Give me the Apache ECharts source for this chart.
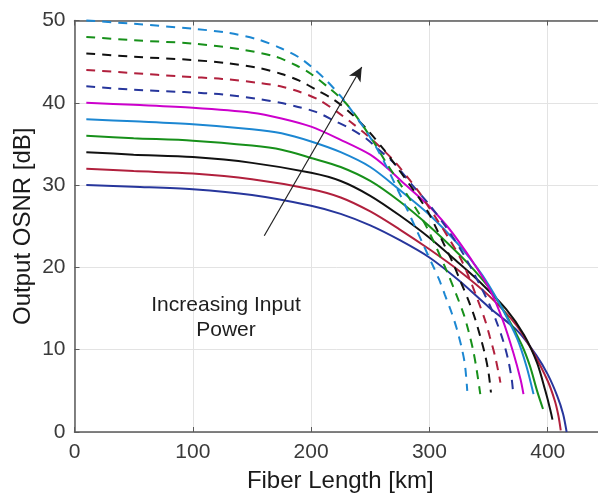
<!DOCTYPE html>
<html><head><meta charset="utf-8">
<script src="https://cdn.jsdelivr.net/npm/echarts@6/dist/echarts.min.js"></script>
<style>html,body{margin:0;padding:0;background:#fff}#c{width:598px;height:498px}</style>
</head><body><div id="c"></div>
<script>
// Tick values
const xTicks = [0, 100, 200, 300, 400];
const yTicks = [0, 10, 20, 30, 40, 50];
// Solid curves: [fiber length km, OSNR dB]
const solid30 = [[10,30],[50,29.8],[100,29.5],[150,28.8],[200,27.5],[225,26.5],[250,25.1],[275,23.3],[300,21.2],[325,18.4],[350,15.2],[375,12.2],[390,9.4],[400,7.0],[408,4.4],[413,2.2],[416,0]];
const solid32 = [[10,32],[50,31.7],[100,31.4],[150,30.7],[200,29.5],[225,28.5],[250,26.8],[275,24.6],[300,22.2],[325,19.6],[350,16.6],[374,12.9],[388,9.6],[400,6.2],[406,3.8],[409,2.0],[411,0.2]];
const solid34 = [[10,34],[50,33.7],[100,33.4],[150,32.7],[200,31.5],[225,30.5],[250,28.7],[275,26.3],[300,23.6],[325,20.5],[345,17.9],[365,14.9],[380,11.8],[391,8.4],[398,5.0],[402,2.8],[404,1.5]];
const solid36 = [[10,36],[50,35.7],[100,35.4],[150,34.8],[175,34.3],[200,33.3],[225,32.2],[250,30.5],[275,28.0],[300,25.0],[325,21.6],[337,19.8],[351,17.4],[365,14.2],[378,10.6],[385,8.0],[391,5.0],[396,2.8]];
const solid38 = [[10,38],[50,37.75],[100,37.4],[150,36.8],[175,36.3],[200,35.3],[225,34.0],[250,32.2],[275,29.4],[300,26.4],[325,22.7],[340,20.0],[350,17.9],[360,15.4],[374,11.4],[382,8.0],[388,4.6]];
const solid40 = [[10,40],[50,39.75],[100,39.4],[150,38.8],[175,38.1],[200,37.1],[225,35.5],[250,33.7],[265,32.0],[280,30.0],[300,27.4],[315,25.0],[325,23.1],[337,20.6],[351,17.3],[362,13.6],[371,9.6],[377,6.4],[379.5,4.6]];
// Dashed curves
const dashed42 = [[10,42],[50,41.6],[93,41.3],[126,41.0],[158,40.4],[174,40.0],[189,39.5],[204,38.9],[220,37.8],[234,36.8],[247,35.6],[258,34.2],[270,32.7],[285,30.1],[300,27.6],[315,24.7],[330,21.3],[344,17.5],[351,15.4],[357,13.3],[362.5,11.0],[366.7,8.7],[369.6,6.4],[370.5,5.2]];
const dashed44 = [[10,44],[50,43.6],[90,43.2],[125,42.9],[157,42.4],[174,42.0],[189,41.4],[206,40.4],[222,38.9],[234,37.6],[247,36.1],[260,34.4],[271,32.8],[284,30.5],[292,29.0],[300,27.2],[306,25.9],[317,23.4],[327,20.9],[334,18.6],[341,16.0],[347,13.6],[351,11.6],[355.5,9.2],[359,6.8],[360,6.0]];
const dashed46 = [[10,46],[50,45.6],[100,45.2],[130,44.8],[157,44.2],[175,43.5],[190,42.7],[204,41.6],[219,40.4],[233,38.8],[247,36.8],[261,34.4],[273,32.1],[283,30.1],[291,28.5],[299,26.7],[306,24.7],[313,22.6],[320,20.5],[326,18.4],[333,16.0],[338.5,13.8],[343,11.6],[347,9.4],[350,7.2],[352,4.8]];
const dashed48 = [[10,48],[50,47.6],[100,47.2],[140,46.5],[170,45.6],[188,44.5],[200,43.5],[216,41.7],[229,40.0],[241,37.8],[253,35.2],[264,32.6],[275,30.2],[283,28.4],[291,26.6],[298,24.8],[305,22.7],[316,19.1],[323,16.6],[329,14.3],[333,12.3],[337,9.9],[340,7.5],[343,4.6]];
const dashed50 = [[10,50],[50,49.6],[100,49.0],[130,48.5],[155,47.7],[175,46.6],[190,45.5],[200,44.4],[213,42.7],[225,40.8],[235,38.9],[245,36.9],[255,34.6],[265,31.9],[273,29.5],[281,27.1],[288,24.9],[295,22.7],[302,20.5],[308,18.6],[313,16.7],[319,14.4],[323,12.6],[327,10.4],[330,8.2],[332,5.0]];
// Arrow (start, end) in data coordinates
const arrowPts = [[160.4,23.85],[242.8,44.35]];
const annotation = 'Increasing Input\nPower';

const C = {blue:'#27369c', red:'#b1203d', black:'#111111', green:'#17901a', lblue:'#1c87d2', mag:'#cc00cc'};
const FONT = 'Liberation Sans, Arial, Helvetica, sans-serif';
const XMAX = 442.5;

function ln(data, color, dashed){
  return {type:'line', data, smooth:0.3, showSymbol:false, symbol:'none', clip:false,
    lineStyle:{color, width:2, type: dashed ? [9,7] : 'solid', cap:'butt'}, z:2, silent:true};
}

const chart = echarts.init(document.getElementById('c'), null, {renderer:'canvas'});
chart.setOption({
  animation:false,
  backgroundColor:'#fff',
  grid:{left:74.5, top:20.5, right:0, bottom:63, containLabel:false},
  xAxis:[{type:'value', min:0, max:XMAX, interval:100,
    name:'Fiber Length [km]', nameLocation:'middle', nameGap:37, nameMoveOverlap:false,
    nameTextStyle:{fontFamily:FONT, fontSize:24, color:'#1a1a1a', padding:[0,0,0,8]},
    axisLine:{show:true, lineStyle:{color:'#5a5a5a', width:1.5}},
    axisTick:{show:true, inside:true, length:5, lineStyle:{color:'#5a5a5a'}},
    axisLabel:{fontFamily:FONT, fontSize:21, color:'#3a3a3a', margin:10, showMaxLabel:false,
      formatter:v=> xTicks.includes(v) ? String(v) : ''},
    splitLine:{show:true, lineStyle:{color:'#e3e3e3', width:1}}},
   {type:'value', min:0, max:XMAX, interval:100, position:'top',
    axisLine:{show:true, onZero:false, lineStyle:{color:'#5a5a5a', width:1.5}},
    axisTick:{show:true, inside:true, length:5, lineStyle:{color:'#5a5a5a'}},
    axisLabel:{show:false}, splitLine:{show:false}}],
  yAxis:[{type:'value', min:0, max:50, interval:10,
    name:'Output OSNR [dB]', nameLocation:'middle', nameGap:39, nameRotate:90, nameMoveOverlap:false,
    nameTextStyle:{fontFamily:FONT, fontSize:24, color:'#1a1a1a'},
    axisLine:{show:true, lineStyle:{color:'#5a5a5a', width:1.5}},
    axisTick:{show:true, inside:true, length:5, lineStyle:{color:'#5a5a5a'}},
    axisLabel:{fontFamily:FONT, fontSize:21, color:'#3a3a3a', margin:9,
      formatter:v=> yTicks.includes(v) ? String(v) : ''},
    splitLine:{show:true, lineStyle:{color:'#e3e3e3', width:1}}}],
  series:[
    ln(solid30, C.blue, false), ln(solid32, C.red, false), ln(solid34, C.black, false),
    ln(solid36, C.green, false), ln(solid38, C.lblue, false), ln(solid40, C.mag, false),
    ln(dashed42, C.blue, true), ln(dashed44, C.red, true), ln(dashed46, C.black, true),
    ln(dashed48, C.green, true), ln(dashed50, C.lblue, true),
    {type:'line', data:[], silent:true,
     markLine:{silent:true, symbol:['none','arrow'], symbolSize:[10,14], animation:false,
       label:{show:false},
       lineStyle:{color:'#222', width:1.2, type:'solid'},
       emphasis:{disabled:true},
       data:[[{coord:arrowPts[0]},{coord:arrowPts[1]}]]}}
  ],
  graphic:[{type:'text', x:226, y:318, z:10,
    style:{text:annotation, font:'21px '+FONT, fill:'#1e1e1e', textAlign:'center', textVerticalAlign:'middle', lineHeight:25}}]
});
</script></body></html>
